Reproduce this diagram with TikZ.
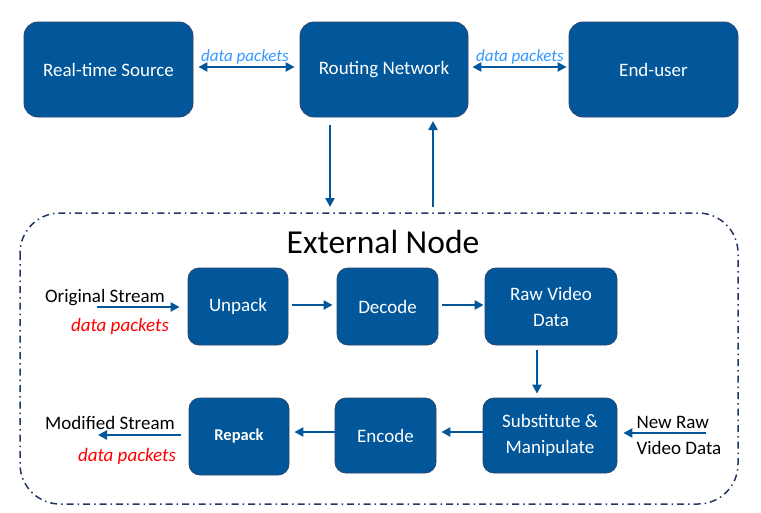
\documentclass[tikz,border=0pt]{standalone}
\usepackage{fontspec}
\setmainfont{Carlito}
\usetikzlibrary{arrows.meta,positioning}
\definecolor{boxblue}{RGB}{2,87,154}
\definecolor{boxedge}{RGB}{40,70,110}
\definecolor{lblblue}{RGB}{51,153,255}
\definecolor{dashnavy}{RGB}{31,56,100}
\begin{document}
\begin{tikzpicture}[x=1pt,y=-1pt,
  bigbox/.style={draw=boxedge,fill=boxblue,rounded corners=14pt,text=white,font=\fontsize{19}{23}\selectfont,align=center,line width=0.8pt},
  smallbox/.style={draw=boxedge,fill=boxblue,rounded corners=11pt,text=white,font=\fontsize{19}{26}\selectfont,align=center,line width=0.8pt},
  flow/.style={draw=boxblue,line width=2.4pt,-{Triangle[length=9pt,width=9pt]}},
  both/.style={draw=boxblue,line width=2.4pt,{Triangle[length=9pt,width=9pt]}-{Triangle[length=9pt,width=9pt]}},
  plain/.style={font=\fontsize{19}{23}\selectfont,text=black},
  lbl/.style={font=\itshape\fontsize{17}{20}\selectfont,text=lblblue},
  red/.style={font=\itshape\fontsize{19}{23}\selectfont,text=red}
]
\useasboundingbox (0,0) rectangle (761,512);
\fill[white] (0,0) rectangle (761,512);
% top row
\node[bigbox,minimum width=169pt,minimum height=95pt] (src) at (108.5,69.5) {Real-time Source};
\node[bigbox,minimum width=168pt,minimum height=95pt] (net) at (384,69.5) {Routing Network};
\node[bigbox,minimum width=169pt,minimum height=95pt] (usr) at (653.5,69.5) {End-user};
\draw[both] ([xshift=5pt,yshift=2.5pt]src.east) -- ([xshift=-5pt,yshift=2.5pt]net.west);
\node[lbl] (l1) at (245,57) {data packets};
\draw[both] ([xshift=4pt,yshift=2.5pt]net.east) -- ([xshift=-2pt,yshift=2.5pt]usr.west);
\node[lbl] (l2) at (520,57) {data packets};
% external node region
\draw[dashnavy,line width=1.5pt,dash pattern=on 7pt off 4pt on 1.5pt off 4pt,rounded corners=40pt] (20,213) rectangle (738,504);
\node[font=\fontsize{33.5}{38}\selectfont] (ext) at (383,242) {External Node};
\coordinate (dn1) at (330,125);
\coordinate (dn2) at (330,207);
\draw[flow] (dn1) -- (dn2);
\coordinate (up1) at (433,207);
\coordinate (up2) at (433,121);
\draw[flow] (up1) -- (up2);
% inner boxes
\node[smallbox,minimum width=100pt,minimum height=77pt] (unpack) at (238,306.5) {Unpack};
\node[smallbox,minimum width=101pt,minimum height=77pt] (decode) at (387.5,306.5) {Decode};
\node[smallbox,minimum width=132pt,minimum height=77pt] (raw) at (551,306.5) {Raw Video\\Data};
\node[smallbox,minimum width=134pt,minimum height=75pt] (sub) at (550,435.5) {Substitute \&\\Manipulate};
\node[smallbox,minimum width=101pt,minimum height=75pt] (enc) at (385.5,435.5) {Encode};
\node[smallbox,minimum width=100pt,minimum height=77pt,font=\bfseries\fontsize{16.5}{20}\selectfont] (rep) at (239,436.5) {Repack};
\coordinate (r1) at (0,305);
\coordinate (r2) at (0,432);
\coordinate (r3) at (0,435);
\draw[flow] ([xshift=4pt]unpack.east |- r1) -- ([xshift=-4pt]decode.west |- r1);
\draw[flow] ([xshift=4pt]decode.east |- r1) -- ([xshift=-1pt]raw.west |- r1);
\draw[flow] ([xshift=-14pt,yshift=-5pt]raw.south) -- ([xshift=-13pt,yshift=4pt]sub.north);
\draw[flow] (sub.west |- r2) -- ([xshift=5pt]enc.east |- r2);
\draw[flow] (enc.west |- r2) -- ([xshift=5pt]rep.east |- r2);
% external labels
\node[plain] (orig) at (105,298) {Original Stream};
\node[red] (dp1) at (120,326) {data packets};
\coordinate (origstart) at (97,307);
\draw[flow] (origstart) -- ([xshift=-8pt]unpack.west |- origstart);
\node[plain] (mod) at (110,423) {Modified Stream};
\node[red] (dp2) at (127,456) {data packets};
\coordinate (modend) at (98,435);
\draw[flow] ([xshift=-8pt]rep.west |- modend) -- (modend);
\node[plain,align=left,anchor=west,font=\fontsize{19}{26}\selectfont] (newraw) at (633,435) {New Raw\\Video Data};
\coordinate (nrstart) at (706,433);
\draw[flow] (nrstart) -- ([xshift=6pt]sub.east |- nrstart);
\end{tikzpicture}
\end{document}
